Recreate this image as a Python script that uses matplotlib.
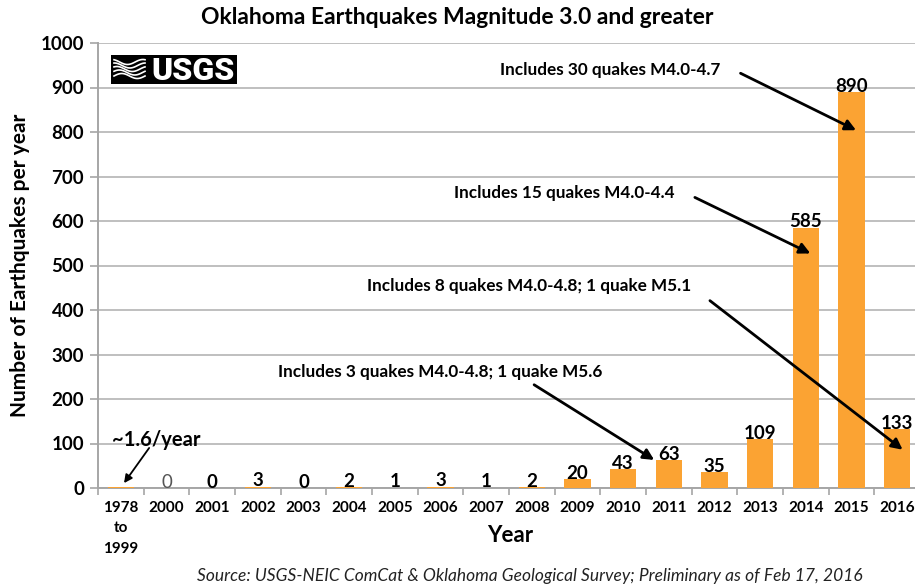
import matplotlib
matplotlib.use("Agg")
import matplotlib.pyplot as plt
import numpy as np

plt.rcParams['font.family'] = ['Lato', 'DejaVu Sans']

categories = ["1978\nto\n1999", "2000", "2001", "2002", "2003", "2004", "2005", "2006",
              "2007", "2008", "2009", "2010", "2011", "2012", "2013", "2014", "2015", "2016"]
values = [1.6, 0, 0, 3, 0, 2, 1, 3, 1, 2, 20, 43, 63, 35, 109, 585, 890, 133]
labels = [None, "0", "0", "3", "0", "2", "1", "3", "1", "2", "20", "43", "63", "35",
          "109", "585", "890", "133"]
yticks = [0, 100, 200, 300, 400, 500, 600, 700, 800, 900, 1000]

W, H = 915, 584
fig = plt.figure(figsize=(W / 100, H / 100), dpi=100)
ax = fig.add_axes([98 / W, 1 - 488 / H, (920 - 98) / W, (488 - 43) / H])

bar_color = '#FBA333'
x = np.arange(len(categories))
ax.bar(x, values, width=0.57, color=bar_color, zorder=3)

ax.set_xlim(-0.5, len(categories) - 0.5)
ax.set_ylim(0, 1000)
ax.set_yticks(yticks)
ax.set_yticklabels([str(v) for v in yticks], fontsize=13.5, fontweight='bold')
ax.set_xticks(x)
ax.set_xticklabels(categories, fontsize=11, fontweight='bold', linespacing=1.6)
ax.set_xticks(np.arange(-0.5, len(categories)), minor=True)
ax.tick_params(axis='x', which='major', length=0, pad=9)
ax.tick_params(axis='x', which='minor', length=5, color='#A6A6A6', width=1.2)
ax.tick_params(axis='y', length=6, color='#A6A6A6', width=1.2, pad=4)

ax.grid(axis='y', color='#BFBFBF', linewidth=1.4, zorder=0)
for s in ['top', 'right']:
    ax.spines[s].set_visible(False)
for s in ['left', 'bottom']:
    ax.spines[s].set_color('#A6A6A6')
    ax.spines[s].set_linewidth(1.4)

for xi, v, lab in zip(x, values, labels):
    if lab is None:
        continue
    ax.annotate(lab, (xi, v), xytext=(0, -2), textcoords='offset points',
                ha='center', va='bottom', fontsize=13.5,
                fontweight='normal' if xi == 1 else 'bold',
                color='#555555' if xi == 1 else 'black', zorder=4)

ax.set_ylabel("Number of Earthquakes per year", fontsize=15, fontweight='bold')
ax.yaxis.set_label_coords(-(98 - 30) / (920 - 98), (488 - 265) / (488 - 43))
fig.text(510 / W, 1 - 536 / H, "Year", ha='center', va='center',
         fontsize=16, fontweight='bold')
fig.text(457 / W, 1 - 18 / H, "Oklahoma Earthquakes Magnitude 3.0 and greater",
         ha='center', va='center', fontsize=16.5, fontweight='bold')
fig.text(530 / W, 1 - 576 / H,
         "Source: USGS-NEIC ComCat & Oklahoma Geological Survey; Preliminary as of Feb 17, 2016",
         ha='center', va='center', fontsize=12.5, style='italic', color='#222222')

# annotations (data coordinates)
notes = [
    ("Includes 30 quakes M4.0-4.7", (10.72, 939), (13.57, 932), (16.1, 804)),
    ("Includes 15 quakes M4.0-4.4", (9.7, 662), (12.57, 653), (15.1, 527)),
    ("Includes 8 quakes M4.0-4.8; 1 quake M5.1", (8.95, 453), (12.9, 421), (17.12, 86)),
    ("Includes 3 quakes M4.0-4.8; 1 quake M5.6", (6.99, 261), (9.05, 232), (11.68, 63)),
]
for txt, tpos, a0, a1 in notes:
    ax.text(tpos[0], tpos[1], txt, ha='center', va='center', fontsize=12.3,
            fontweight='bold', zorder=5)
    ax.annotate("", xy=a1, xytext=a0,
                arrowprops=dict(arrowstyle='-|>', color='black', lw=2,
                                mutation_scale=16, shrinkA=0, shrinkB=0), zorder=5)

ax.text(0.77, 108, "~1.6/year", ha='center', va='center', fontsize=14.5,
        fontweight='bold', zorder=5)
ax.annotate("", xy=(0.07, 11), xytext=(0.62, 90),
            arrowprops=dict(arrowstyle='-|>', color='black', lw=1.3,
                            mutation_scale=12, shrinkA=0, shrinkB=0), zorder=5)

# USGS logo
lax = fig.add_axes([111 / W, 1 - 84 / H, (237 - 111) / W, (84 - 55) / H])
lax.set_facecolor('black')
lax.set_xlim(0, 126)
lax.set_ylim(0, 29)
lax.set_xticks([])
lax.set_yticks([])
t = np.linspace(3, 34, 50)
for k, off in enumerate([8, 11.5, 15, 18.5, 22]):
    lax.plot(t, off + 2.5 * np.sin((t - 3) / 31 * 2 * np.pi + k * 0.5), color='white', lw=1.2)
lax.text(82, 13.5, "USGS", color='white', fontsize=23, fontweight='heavy',
         ha='center', va='center', family=['Roboto', 'DejaVu Sans'])
for s in lax.spines.values():
    s.set_visible(False)

fig.savefig("out.png", dpi=100)
